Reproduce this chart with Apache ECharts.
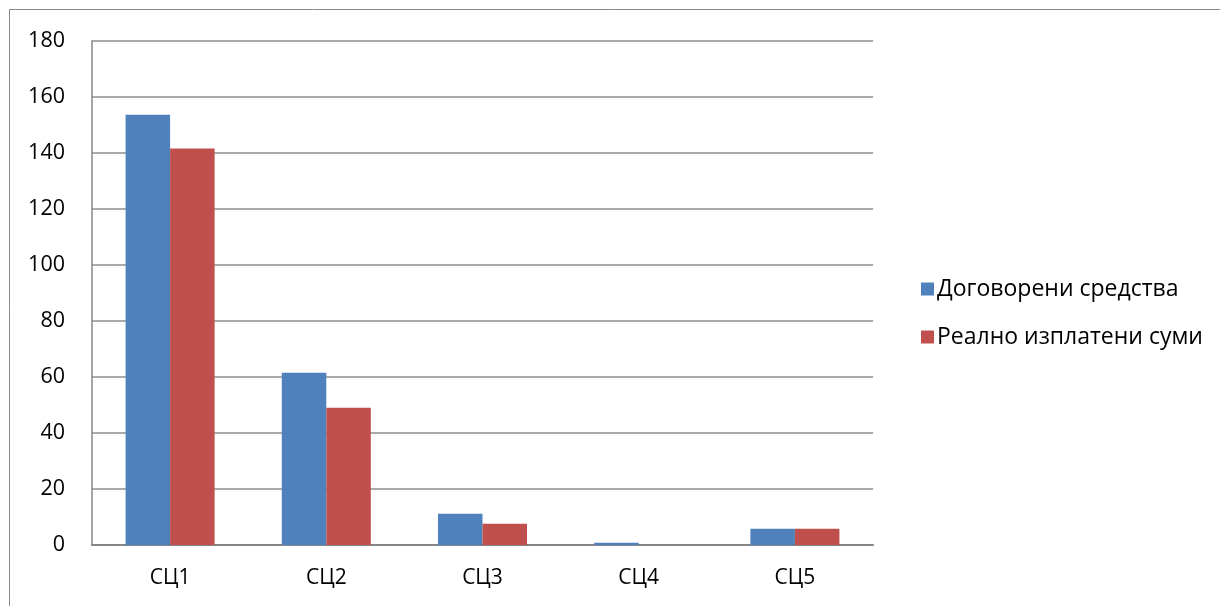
<!DOCTYPE html>
<html>
<head>
<meta charset="utf-8">
<script src="https://cdn.jsdelivr.net/npm/echarts@6/dist/echarts.min.js"></script>
<style>
html,body{margin:0;padding:0;background:#fff;}
#main{width:1220px;height:606px;}
</style>
</head>
<body>
<div id="main"></div>
<script>
var categories = ['СЦ1', 'СЦ2', 'СЦ3', 'СЦ4', 'СЦ5'];
var seriesNames = ['Договорени средства', 'Реално изплатени суми'];
var contracted = [153.7, 61.5, 11.2, 0.8, 5.8];
var paid = [141.6, 49.0, 7.6, 0, 5.8];
var yTicks = { min: 0, max: 180, interval: 20 };

var chart = echarts.init(document.getElementById('main'));
var font = '"Open Sans", "Noto Sans", sans-serif';
chart.setOption({
  animation: false,
  textStyle: { fontFamily: font },
  graphic: [{
    type: 'rect',
    shape: { x: 9.5, y: 9.5, width: 1230, height: 620 },
    style: { fill: 'none', stroke: '#8a8a8a', lineWidth: 1 },
    silent: true
  }],
  grid: { left: 92, right: 347, top: 41, bottom: 61 },
  legend: {
    orient: 'vertical',
    left: 916,
    top: 271,
    itemWidth: 13,
    itemHeight: 13,
    itemGap: 22,
    icon: 'rect',
    textStyle: { fontFamily: font, fontSize: 23, lineHeight: 26, color: '#000', padding: [0, 0, 0, -2] },
    data: seriesNames
  },
  xAxis: {
    type: 'category',
    data: categories,
    axisLine: { lineStyle: { color: '#868686', width: 2 } },
    axisTick: { show: false },
    axisLabel: { color: '#000', fontSize: 21, fontFamily: font, margin: 23 }
  },
  yAxis: {
    type: 'value',
    min: yTicks.min, max: yTicks.max, interval: yTicks.interval,
    axisLine: { show: true, lineStyle: { color: '#868686', width: 1.5 } },
    axisTick: { show: false },
    axisLabel: { color: '#000', fontSize: 21.5, fontFamily: font, margin: 27 },
    splitLine: { lineStyle: { color: '#8c8c8c', width: 1.5 } }
  },
  series: [
    { name: seriesNames[0], type: 'bar', data: contracted, barWidth: '28.5%', barGap: '0%', barCategoryGap: '43%',
      itemStyle: { color: '#4f81bd' } },
    { name: seriesNames[1], type: 'bar', data: paid, barWidth: '28.5%', barGap: '0%', barCategoryGap: '43%',
      itemStyle: { color: '#c0504d' } }
  ]
});
</script>
</body>
</html>
